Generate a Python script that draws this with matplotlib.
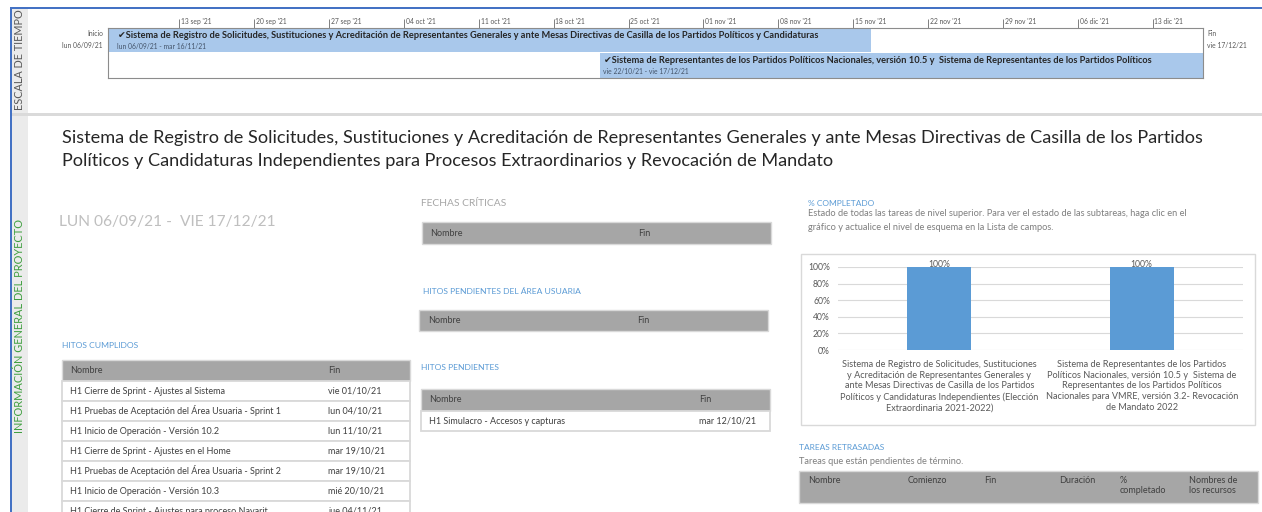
import matplotlib
matplotlib.use('Agg')
import matplotlib.pyplot as plt
import matplotlib.dates as mdates
from matplotlib.patches import Rectangle
from matplotlib.ticker import PercentFormatter
import datetime as dt

# ---------------- data ----------------
project_start = dt.datetime(2021, 9, 6, 8, 0)
project_end = dt.datetime(2021, 12, 17, 17, 0)

tick_dates = [dt.datetime(2021, 9, 13), dt.datetime(2021, 9, 20), dt.datetime(2021, 9, 27),
              dt.datetime(2021, 10, 4), dt.datetime(2021, 10, 11), dt.datetime(2021, 10, 18),
              dt.datetime(2021, 10, 25), dt.datetime(2021, 11, 1), dt.datetime(2021, 11, 8),
              dt.datetime(2021, 11, 15), dt.datetime(2021, 11, 22), dt.datetime(2021, 11, 29),
              dt.datetime(2021, 12, 6), dt.datetime(2021, 12, 13)]
tick_labels = ["13 sep '21", "20 sep '21", "27 sep '21", "04 oct '21", "11 oct '21", "18 oct '21",
               "25 oct '21", "01 nov '21", "08 nov '21", "15 nov '21", "22 nov '21", "29 nov '21",
               "06 dic '21", "13 dic '21"]

task_names = ["\u2714Sistema de Registro de Solicitudes, Sustituciones y Acreditación de Representantes "
              "Generales y ante Mesas Directivas de Casilla de los Partidos Políticos y Candidaturas",
              "\u2714Sistema de Representantes de los Partidos Políticos Nacionales, versión 10.5 y  "
              "Sistema de Representantes de los Partidos Políticos"]
task_starts = [dt.datetime(2021, 9, 6, 8, 0), dt.datetime(2021, 10, 22, 8, 0)]
task_ends = [dt.datetime(2021, 11, 16, 17, 0), dt.datetime(2021, 12, 17, 17, 0)]
task_date_text = ["lun 06/09/21 - mar 16/11/21", "vie 22/10/21 - vie 17/12/21"]

title_lines = ["Sistema de Registro de Solicitudes, Sustituciones y Acreditación de Representantes Generales y ante Mesas Directivas de Casilla de los Partidos",
               "Políticos y Candidaturas Independientes para Procesos Extraordinarios y Revocación de Mandato"]
date_range = "LUN 06/09/21 -  VIE 17/12/21"

hitos_cumplidos_nombre = ["H1 Cierre de Sprint - Ajustes al Sistema",
                          "H1 Pruebas de Aceptación del Área Usuaria - Sprint 1",
                          "H1 Inicio de Operación - Versión 10.2",
                          "H1 Cierre de Sprint - Ajustes en el Home",
                          "H1 Pruebas de Aceptación del Área Usuaria - Sprint 2",
                          "H1 Inicio de Operación - Versión 10.3",
                          "H1 Cierre de Sprint - Ajustes para proceso Nayarit"]
hitos_cumplidos_fin = ["vie 01/10/21", "lun 04/10/21", "lun 11/10/21", "mar 19/10/21",
                       "mar 19/10/21", "mié 20/10/21", "jue 04/11/21"]

hitos_pendientes_nombre = ["H1 Simulacro - Accesos y capturas"]
hitos_pendientes_fin = ["mar 12/10/21"]

pct_categories = ["Sistema de Registro de Solicitudes, Sustituciones\ny Acreditación de Representantes Generales y\n"
                  "ante Mesas Directivas de Casilla de los Partidos\nPolíticos y Candidaturas Independientes (Elección\n"
                  "Extraordinaria 2021-2022)",
                  "Sistema de Representantes de los Partidos\nPolíticos Nacionales, versión 10.5 y  Sistema de\n"
                  "Representantes de los Partidos Políticos\nNacionales para VMRE, versión 3.2- Revocación\n"
                  "de Mandato 2022"]
pct_values = [1.0, 1.0]

retrasadas_cols = ["Nombre", "Comienzo", "Fin", "Duración", "%\ncompletado", "Nombres de\nlos recursos"]

# ---------------- figure ----------------
W, H = 1262, 512
FONT = ['Lato', 'DejaVu Sans']
plt.rcParams['font.family'] = FONT

fig = plt.figure(figsize=(W / 100, H / 100), dpi=100)
ov = fig.add_axes([0, 0, 1, 1])
ov.set_xlim(0, W)
ov.set_ylim(H, 0)
ov.axis('off')
renderer = fig.canvas.get_renderer()


def fs_for(s, width, weight='normal'):
    t = ov.text(0, 0, s, fontsize=10, fontweight=weight)
    w = t.get_window_extent(renderer).width
    t.remove()
    return 10 * width / w


def txt(x, y, s, fs, color='#404040', ha='left', va='center', **kw):
    return ov.text(x, y, s, fontsize=fs, color=color, ha=ha, va=va, **kw)


GRAY_TXT = '#595959'
DARK = '#404040'
BLUE_LBL = '#5b9bd5'
LINE = '#d9d9d9'

# left strip & frame
ov.add_patch(Rectangle((11, 7), 17, H, fc='#ebebeb', ec='none'))
ov.add_patch(Rectangle((10, 7), 2, H, fc='#4472c4', ec='none'))
ov.add_patch(Rectangle((10, 6.5), W, 2.2, fc='#4472c4', ec='none'))
ov.add_patch(Rectangle((12, 113), W, 3, fc='#dadada', ec='none'))

fs_side1 = fs_for("ESCALA DE TIEMPO", 100)
txt(19.5, 60, "ESCALA DE TIEMPO", fs_side1, color=GRAY_TXT, ha='center', rotation=90)
fs_side2 = fs_for("INFORMACIÓN GENERAL DEL PROYECTO", 212)
txt(19.5, 326, "INFORMACIÓN GENERAL DEL PROYECTO", fs_side2, color='#3f9f3f', ha='center', rotation=90)

# ---------------- timeline ----------------
tl = fig.add_axes([108 / W, 1 - 78 / H, (1203 - 108) / W, 50 / H])
tl.set_facecolor('white')
starts = mdates.date2num(task_starts)
ends = mdates.date2num(task_ends)
tl.barh([0, 1], ends - starts, left=starts, height=[0.96, 1.0], align='edge',
        color='#a9c8eb', edgecolor='none')
tl.set_xlim(mdates.date2num(project_start), mdates.date2num(project_end))
tl.set_ylim(2, 0)
for sp in tl.spines.values():
    sp.set_color('#8c8c8c')
    sp.set_linewidth(0.8)
tl.set_yticks([])
tl.xaxis.tick_top()
tl.set_xticks(mdates.date2num(tick_dates))
tl.tick_params(axis='x', length=6.5, width=0.7, color='#7f7f7f', labeltop=False, labelbottom=False)
fs_tick = fs_for("13 sep '21", 31)
for d, lab in zip(mdates.date2num(tick_dates), tick_labels):
    tl.annotate(lab, xy=(d, 1), xycoords=('data', 'axes fraction'), xytext=(1.3, 4.4),
                textcoords='offset points', ha='left', va='center', fontsize=fs_tick,
                color=GRAY_TXT, annotation_clip=False)

fs_task = fs_for(task_names[0], 698, weight='bold')
offsets = [7, 3]
for i, (s, name, dtxt) in enumerate(zip(starts, task_names, task_date_text)):
    tl.annotate(name, xy=(s, i), xycoords='data', xytext=(offsets[i], -5.2),
                textcoords='offset points', ha='left', va='center', fontsize=fs_task,
                fontweight='bold', color='#262626', annotation_clip=False)
    tl.annotate(dtxt, xy=(s, i), xycoords='data', xytext=(offsets[i] - 0.5, -13.3),
                textcoords='offset points', ha='left', va='center', fontsize=fs_tick,
                color='#44546a', annotation_clip=False)

txt(103, 33, "Inicio", fs_tick, color=GRAY_TXT, ha='right')
txt(103, 45, "lun 06/09/21", fs_tick, color=GRAY_TXT, ha='right')
txt(1207, 33, "Fin", fs_tick, color=GRAY_TXT)
txt(1207, 45, "vie 17/12/21", fs_tick, color=GRAY_TXT)

# ---------------- project info ----------------
fs_title = fs_for(title_lines[0], 1141)
txt(62, 138, title_lines[0], fs_title, color='#262626')
txt(62, 161, title_lines[1], fs_title, color='#262626')

fs_range = fs_for(date_range, 215)
txt(59, 222, date_range, fs_range, color='#bfbfbf')

fs_sec_gray = fs_for("FECHAS CRÍTICAS", 85)
fs_sec_blue = fs_for("HITOS PENDIENTES DEL ÁREA USUARIA", 157)
fs_row = fs_for("H1 Pruebas de Aceptación del Área Usuaria - Sprint 1", 213)

txt(421, 203, "FECHAS CRÍTICAS", fs_sec_gray, color='#a6a6a6')
txt(423, 292, "HITOS PENDIENTES DEL ÁREA USUARIA", fs_sec_blue, color=BLUE_LBL)
txt(421, 367, "HITOS PENDIENTES", fs_sec_blue, color=BLUE_LBL)
txt(62, 346, "HITOS CUMPLIDOS", fs_sec_blue, color=BLUE_LBL)


def table(x0, x1, y0, hh, rh, headers, col_x, rows):
    ov.add_patch(Rectangle((x0, y0), x1 - x0, hh, fc='#a6a6a6', ec=LINE, lw=1))
    for h, cx in zip(headers, col_x):
        txt(cx, y0 + hh / 2, h, fs_row, color=DARK)
    y = y0 + hh
    for row in rows:
        ov.add_patch(Rectangle((x0, y), x1 - x0, rh, fc='white', ec=LINE, lw=1.3))
        for val, cx in zip(row, col_x):
            txt(cx, y + rh / 2, val, fs_row, color=DARK)
        y += rh


table(422, 771, 222, 22, 20, ["Nombre", "Fin"], [430, 638], [])
table(419, 768, 310, 21, 20, ["Nombre", "Fin"], [428, 637], [])
table(421, 770, 389, 22, 20, ["Nombre", "Fin"], [429, 699],
      list(zip(hitos_pendientes_nombre, hitos_pendientes_fin)))
table(62, 410, 360, 21, 20, ["Nombre", "Fin"], [70, 328],
      list(zip(hitos_cumplidos_nombre, hitos_cumplidos_fin)))

# ---------------- % completado ----------------
fs_small_blue = fs_for("TAREAS RETRASADAS", 86)
txt(808, 203, "% COMPLETADO", fs_small_blue, color=BLUE_LBL)
desc1 = "Estado de todas las tareas de nivel superior. Para ver el estado de las subtareas, haga clic en el"
desc2 = "gráfico y actualice el nivel de esquema en la Lista de campos."
fs_desc = fs_for(desc1, 380)
txt(808, 214, desc1, fs_desc, color='#7f7f7f')
txt(808, 227, desc2, fs_desc, color='#7f7f7f')

ov.add_patch(Rectangle((801, 254), 454, 171, fc='white', ec=LINE, lw=1))

bc = fig.add_axes([838 / W, 1 - 350 / H, 405 / W, 83 / H])
bc.set_facecolor('none')
bars = bc.bar([0, 1], pct_values, width=0.316, color='#5b9bd5', zorder=3)
bc.set_xlim(-0.5, 1.5)
bc.set_ylim(0, 1)
bc.set_yticks([0, 0.2, 0.4, 0.6, 0.8, 1.0])
bc.yaxis.set_major_formatter(PercentFormatter(1.0, decimals=0))
bc.grid(axis='y', color=LINE, lw=0.8, zorder=0)
for sp in bc.spines.values():
    sp.set_visible(False)
fs_ax = fs_for("100%", 22)
fs_cat = fs_for("Políticos y Candidaturas Independientes (Elección", 199)
bc.tick_params(axis='y', length=0, pad=5.8, labelsize=fs_ax, labelcolor=GRAY_TXT)
bc.tick_params(axis='x', length=0, pad=7.5, labelsize=fs_cat, labelcolor=GRAY_TXT)
bc.set_xticks([0, 1])
bc.set_xticklabels(pct_categories, linespacing=1.22)
bc.bar_label(bars, labels=[f"{v:.0%}" for v in pct_values], padding=-1.5,
             fontsize=fs_ax, color=GRAY_TXT)

# ---------------- tareas retrasadas ----------------
txt(799, 448, "TAREAS RETRASADAS", fs_small_blue, color=BLUE_LBL)
txt(799, 462, "Tareas que están pendientes de término.", fs_desc, color='#7f7f7f')
ov.add_patch(Rectangle((799, 471), 459, 32, fc='#a6a6a6', ec=LINE, lw=1))
for h, cx in zip(retrasadas_cols, [808, 908, 984, 1059, 1120, 1189]):
    txt(cx, 476, h, fs_row, color=DARK, va='top', linespacing=1.15)

fig.savefig('out.png', dpi=100)
